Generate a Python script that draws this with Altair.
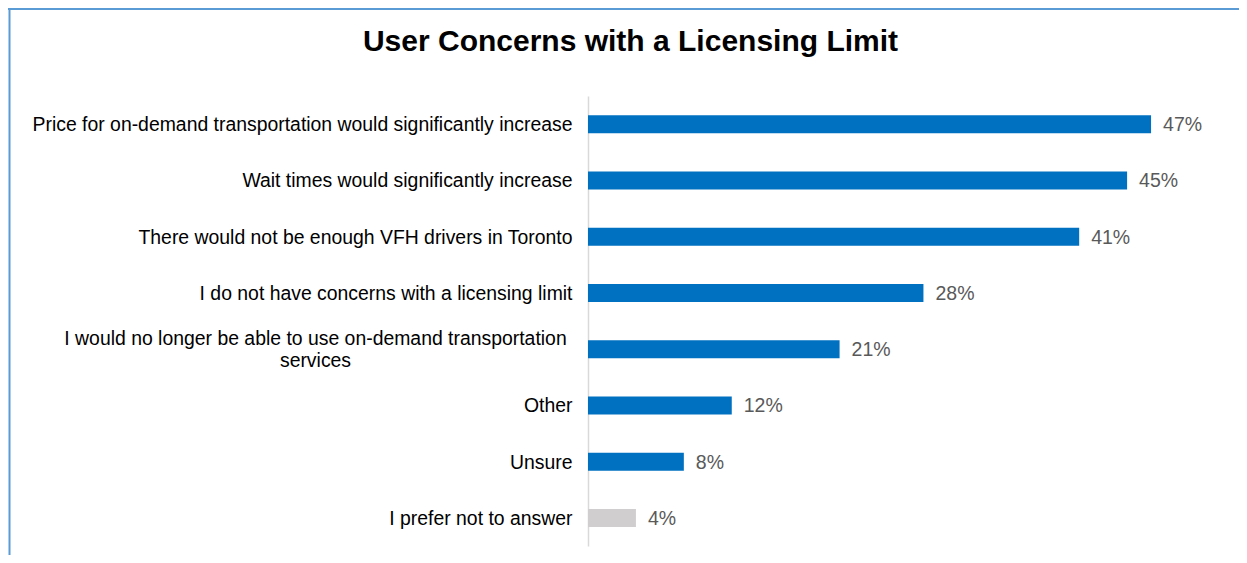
import altair as alt
import pandas as pd

categories = [
    "Price for on-demand transportation would significantly increase",
    "Wait times would significantly increase",
    "There would not be enough VFH drivers in Toronto",
    "I do not have concerns with a licensing limit",
    "I would no longer be able to use on-demand transportation|services",
    "Other",
    "Unsure",
    "I prefer not to answer",
]
values = [47, 45, 41, 28, 21, 12, 8, 4]
kinds = ["response"] * 7 + ["no answer"]
value_labels = [f"{v}%" for v in values]

df = pd.DataFrame({"category": categories, "value": values, "kind": kinds, "label": value_labels})

FONT = "Liberation Sans"
MULTI = "indexof(datum.value, '|') >= 0"

y_axis = alt.Axis(
    title=None,
    labelExpr="split(datum.label, '|')",
    labelFont=FONT,
    labelFontSize=19.4,
    labelColor="#000000",
    labelLimit=1000,
    labelLineHeight=22,
    ticks=False,
    domain=True,
    domainColor="#D9D9D9",
    domainWidth=1.5,
    labelAlign={"condition": {"test": MULTI, "value": "center"}, "value": "right"},
    labelPadding={"condition": {"test": MULTI, "value": 273}, "value": 16},
    labelOffset={"condition": {"test": MULTI, "value": -10}, "value": 1},
)

base = alt.Chart(df).encode(
    y=alt.Y("category:N", sort=categories, axis=y_axis,
            scale=alt.Scale(paddingInner=0.68, paddingOuter=0.34)),
)

bars = base.mark_bar(size=18).encode(
    x=alt.X("value:Q", scale=alt.Scale(domain=[0, 50]), axis=None),
    color=alt.Color("kind:N", scale=alt.Scale(domain=["response", "no answer"], range=["#0070C0", "#D0CECE"]), legend=None),
)

texts = base.mark_text(align="left", baseline="middle", dx=12, dy=1, fontSize=19.5, font=FONT, color="#595959").encode(
    x=alt.X("value:Q"),
    text="label:N",
)

frame_df = pd.DataFrame({"a": [0]})
left_border = alt.Chart(frame_df).mark_rule(color="#5B9BD5", strokeWidth=2).encode(
    x=alt.value(-578.5), y=alt.value(-88), y2=alt.value(470)
)
top_border = alt.Chart(frame_df).mark_rule(color="#5B9BD5", strokeWidth=2).encode(
    x=alt.value(-580), x2=alt.value(660), y=alt.value(-87)
)

chart = alt.layer(bars, texts, left_border, top_border).properties(
    width=599,
    height=450,
    title=alt.TitleParams(
        "User Concerns with a Licensing Limit",
        font=FONT, fontSize=30, fontWeight="bold", color="#000000",
        anchor="middle", frame="group", dx=-257, offset=-74, baseline="alphabetic",
    ),
    autosize=alt.AutoSizeParams(type="none"),
    padding={"left": 580, "top": 88, "right": 52, "bottom": 9},
).configure_view(stroke=None)

chart.save("out.html", embed_options={"renderer": "svg", "actions": False})
